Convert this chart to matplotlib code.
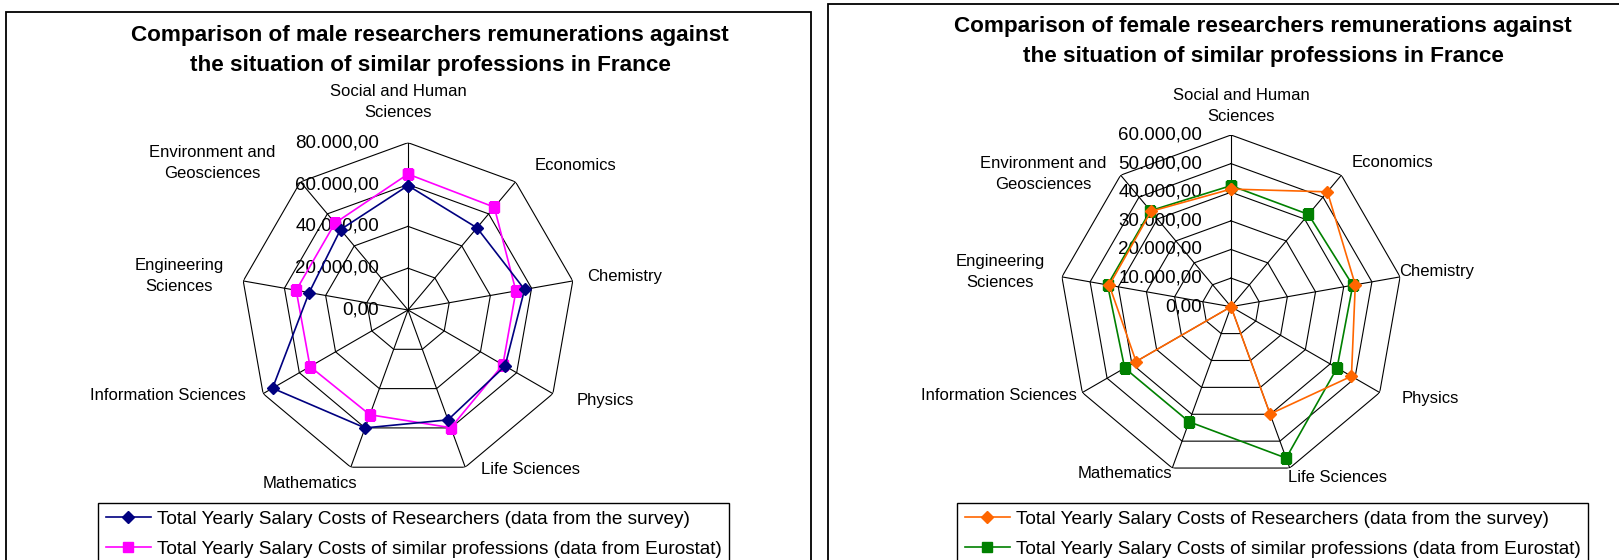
import numpy as np
import matplotlib
matplotlib.use("Agg")
import matplotlib.pyplot as plt
from matplotlib.patches import Rectangle
from matplotlib.transforms import offset_copy

plt.rcParams['font.family'] = ['Liberation Sans', 'DejaVu Sans']

# data
categories = ["Social and Human\nSciences", "Economics", "Chemistry", "Physics",
              "Life Sciences", "Mathematics", "Information Sciences",
              "Engineering\nSciences", "Environment and\nGeosciences"]
male_survey = [59500, 51300, 56600, 53600, 55900, 60000, 74800, 48000, 50200]
male_eurostat = [65000, 64200, 52400, 52400, 59900, 53300, 54100, 54300, 54300]
female_survey = [41100, 52400, 44100, 48600, 39900, 0, 38300, 43200, 43500]
female_eurostat = [42300, 42100, 43200, 42800, 56300, 42800, 42900, 43800, 43800]
male_ticks = [0, 20000, 40000, 60000, 80000]
female_ticks = [0, 10000, 20000, 30000, 40000, 50000, 60000]
series_names = ["Total Yearly Salary Costs of Researchers (data from the survey)",
                "Total Yearly Salary Costs of similar professions (data from Eurostat)"]

W, H = 1619, 560
fig = plt.figure(figsize=(W / 100, H / 100), dpi=100)


def fx(x):
    return x / W


def fy(y):
    return 1 - y / H


def fmt(v):
    s = f"{v:,.2f}"
    return s.replace(",", "X").replace(".", ",").replace("X", ".")


def radar(cx, cy, rad, ticks, s1, s2, c1, c2, title, title_y, title_x,
          label_pos, legend_x):
    ax = fig.add_axes([fx(cx - rad), fy(cy + rad), 2 * rad / W, 2 * rad / H],
                      projection='polar')
    ax.set_theta_zero_location('N')
    ax.set_theta_direction(-1)
    ax.set_facecolor('none')
    ax.grid(False)
    ax.spines['polar'].set_visible(False)
    ax.set_xticks([])
    ax.set_yticks([])
    n = len(categories)
    theta = np.arange(n) * 2 * np.pi / n
    closed = np.append(theta, theta[0])
    # straight-edged rings and spokes
    for t in ticks[1:]:
        ax.plot(closed, [t] * (n + 1), color='black', lw=0.8, zorder=1)
    for th in theta:
        ax.plot([th, th], [0, ticks[-1]], color='black', lw=0.8, zorder=1)
    l1, = ax.plot(closed, s1 + s1[:1], color=c1, lw=1.2, marker='D', ms=6,
                  zorder=3, label=series_names[0])
    l2, = ax.plot(closed, s2 + s2[:1], color=c2, lw=1.2, marker='s', ms=6.5,
                  zorder=2, label=series_names[1])
    ax.set_ylim(0, ticks[-1])
    tr = offset_copy(ax.transData, fig=fig, x=-29, y=0, units='dots')
    for t in ticks:
        ax.text(0, t, fmt(t), transform=tr, ha='right', va='center',
                fontsize=13.5, zorder=0)
    for lab, (x, y) in zip(categories, label_pos):
        fig.text(fx(x), fy(y), lab, ha='center', va='center', fontsize=12,
                 linespacing=1.55)
    fig.text(fx(title_x), fy(title_y), title, ha='center', va='center',
             fontsize=16.2, fontweight='bold', linespacing=1.62)
    leg = fig.legend(handles=[l1, l2], loc='upper left',
                     bbox_to_anchor=(fx(legend_x), fy(503)), fontsize=13.7,
                     frameon=True, fancybox=False, edgecolor='black',
                     framealpha=1, borderpad=0.4, labelspacing=0.65,
                     handlelength=2.4, handletextpad=0.3, borderaxespad=0)
    leg.get_frame().set_linewidth(1.0)
    return ax


male_labels = [(398, 102), (575, 165), (625, 276), (605, 400), (530, 470),
               (310, 484), (168, 395), (179, 276), (212, 163)]
female_labels = [(1241, 106), (1392, 162), (1437, 271), (1430, 399), (1338, 477),
                 (1125, 473), (999, 395), (1000, 272), (1043, 174)]

radar(408, 310, 167.3, male_ticks, male_survey, male_eurostat, '#000080', '#FF00FF',
      "Comparison of male researchers remunerations against\nthe situation of similar professions in France",
      50.5, 430, male_labels, 98)
radar(1231, 306.7, 171.7, female_ticks, female_survey, female_eurostat, '#FF6600', '#008000',
      "Comparison of female researchers remunerations against\nthe situation of similar professions in France",
      41.5, 1263, female_labels, 957)

# panel borders
fig.add_artist(Rectangle((fx(6), fy(600)), fx(811) - fx(6), fy(12) - fy(600),
                         fill=False, edgecolor='black', lw=1.3))
fig.add_artist(Rectangle((fx(828), fy(600)), fx(1700) - fx(828), fy(3.7) - fy(600),
                         fill=False, edgecolor='black', lw=1.3))

fig.savefig("out.png", dpi=100)
